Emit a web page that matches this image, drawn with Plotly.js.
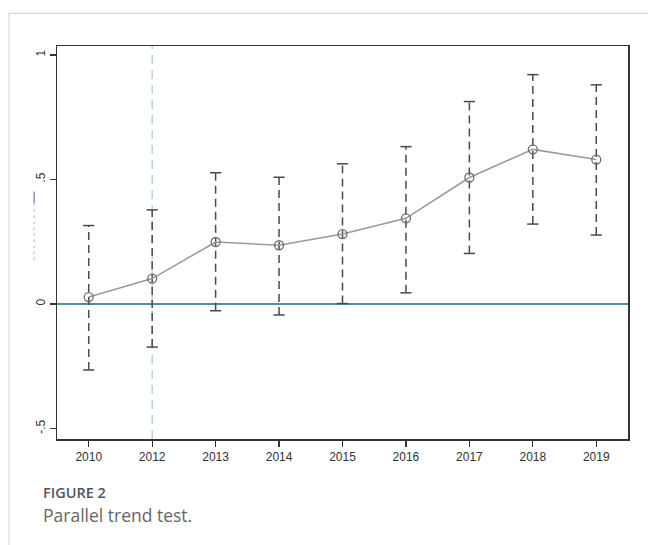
<!DOCTYPE html>
<html>
<head>
<meta charset="utf-8">
<script src="https://cdn.plot.ly/plotly-3.0.1.min.js"></script>
<style>
  html, body { margin: 0; padding: 0; background: #fff; }
  #chart { width: 648px; height: 545px; }
</style>
</head>
<body>
<div id="chart"></div>
<script>
// ---- data ----
const years    = ['2010', '2012', '2013', '2014', '2015', '2016', '2017', '2018', '2019'];
const estimate = [0.028, 0.102, 0.249, 0.236, 0.281, 0.344, 0.508, 0.621, 0.580];
const ciLower  = [-0.265, -0.173, -0.027, -0.044, 0.002, 0.045, 0.203, 0.321, 0.277];
const ciUpper  = [0.315, 0.378, 0.527, 0.509, 0.563, 0.632, 0.813, 0.921, 0.880];
const yTickVals = [-0.5, 0, 0.5, 1];
const yTickText = ['-.5', '0', '.5', '1'];
const policyYear = '2012';
const captionLabel = 'FIGURE 2';
const captionText = 'Parallel trend test.';

// ---- build error-bar segments from the data ----
const ebX = [], ebY = [];
const capX = [], capY = [];
years.forEach((yr, i) => {
  ebX.push(yr, yr, null);
  ebY.push(ciLower[i], ciUpper[i], null);
  capX.push(yr, yr);
  capY.push(ciLower[i], ciUpper[i]);
});
const policyIndex = years.indexOf(policyYear);

const traces = [
  {
    x: ebX, y: ebY, type: 'scatter', mode: 'lines',
    line: { color: '#4a4a4a', width: 1.5, dash: '8px,5px' },
    hoverinfo: 'skip', showlegend: false
  },
  {
    x: capX, y: capY, type: 'scatter', mode: 'markers',
    marker: { symbol: 'line-ew-open', size: 8, color: '#4a4a4a', line: { color: '#4a4a4a', width: 1.5 } },
    hoverinfo: 'skip', showlegend: false
  },
  {
    x: years, y: estimate, type: 'scatter', mode: 'lines+markers',
    line: { color: '#9a9a9a', width: 1.6 },
    marker: { symbol: 'circle-open', size: 9, color: '#6e6e6e', line: { color: '#6e6e6e', width: 1.3 } },
    showlegend: false
  }
];

const layout = {
  width: 648, height: 545,
  margin: { l: 57, r: 20, t: 46, b: 106 },
  paper_bgcolor: '#ffffff', plot_bgcolor: '#ffffff',
  font: { family: 'Liberation Sans, Arial, sans-serif', color: '#333' },
  showlegend: false,
  xaxis: {
    type: 'category', categoryorder: 'array', categoryarray: years,
    range: [-0.5, 8.5],
    showline: true, mirror: true, linecolor: '#333', linewidth: 1.5,
    ticks: 'outside', ticklen: 6, tickcolor: '#333', tickwidth: 1.2,
    showgrid: false, zeroline: false,
    tickfont: { size: 12, color: '#333' }
  },
  yaxis: {
    range: [-0.542, 1.036],
    tickvals: yTickVals, ticktext: yTickText, tickangle: -90,
    showline: true, mirror: true, linecolor: '#333', linewidth: 1.5,
    ticks: 'outside', ticklen: 6, tickcolor: '#333', tickwidth: 1.2,
    showgrid: false,
    zeroline: true, zerolinecolor: '#4a8fa6', zerolinewidth: 1.5,
    tickfont: { size: 12, color: '#333' }
  },
  shapes: [
    { type: 'line', xref: 'x', yref: 'paper', x0: policyIndex, x1: policyIndex, y0: 0, y1: 1,
      line: { color: '#a3cccb', width: 1.2, dash: '9px,6px' }, layer: 'below' },
    // page frame
    { type: 'line', xref: 'paper', yref: 'paper', x0: -0.084, x1: 1.05, y0: 1.083, y1: 1.083,
      line: { color: '#d0d0d0', width: 1 } },
    { type: 'line', xref: 'paper', yref: 'paper', x0: -0.084, x1: -0.084, y0: 1.083, y1: -0.3,
      line: { color: '#d0d0d0', width: 1 } },
    // faint remnant of the y-axis title
    { type: 'line', xref: 'paper', yref: 'paper', x0: -0.04, x1: -0.04, y0: 0.600, y1: 0.455,
      line: { color: '#a9cde8', width: 1.2, dash: 'dot' } },
    { type: 'line', xref: 'paper', yref: 'paper', x0: -0.04, x1: -0.04, y0: 0.630, y1: 0.600,
      line: { color: '#8a6ab0', width: 1.2 } }
  ],
  annotations: [
    { text: captionLabel, xref: 'paper', yref: 'paper', x: -0.028, y: -0.135,
      xanchor: 'left', yanchor: 'middle', showarrow: false,
      font: { family: 'Open Sans, sans-serif', size: 14.5, color: '#555', weight: 600 } },
    { text: captionText, xref: 'paper', yref: 'paper', x: -0.028, y: -0.193,
      xanchor: 'left', yanchor: 'middle', showarrow: false,
      font: { family: 'Open Sans, sans-serif', size: 17.5, color: '#666' } }
  ]
};

Plotly.newPlot('chart', traces, layout, { displayModeBar: false, staticPlot: true });
</script>
</body>
</html>
